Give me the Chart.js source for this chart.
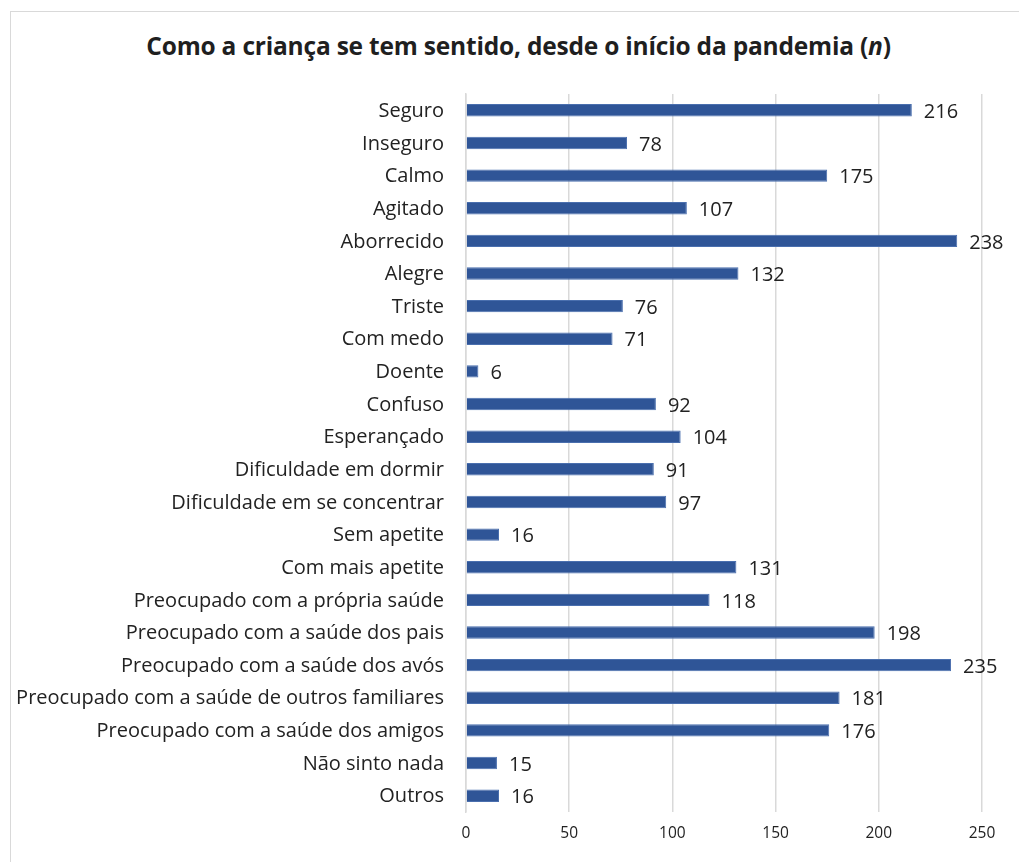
<!DOCTYPE html>
<html>
<head>
<meta charset="utf-8">
<script src="https://cdn.jsdelivr.net/npm/chart.js@4/dist/chart.umd.min.js"></script>
<style>
  html, body { margin: 0; padding: 0; background: #fff; overflow: hidden; }
  #frame { position: absolute; left: 10px; top: 11px; width: 1100px; height: 900px; border: 1px solid #d9d9d9; }
  #title { position: absolute; left: 0; top: 29px; width: 1037px; text-align: center;
           font: bold 24.5px "Open Sans", sans-serif; color: #1f1f1f; letter-spacing: -0.2px; }
  #wrap { position: absolute; left: 0; top: 0; width: 1019px; height: 862px; }
</style>
</head>
<body>
<div id="frame"></div>
<div id="title">Como a criança se tem sentido, desde o início da pandemia (<i>n</i>)</div>
<div id="wrap"><canvas id="barChart" width="1019" height="862"></canvas></div>
<script>
// Categories (top to bottom)
const categories = [
  'Seguro', 'Inseguro', 'Calmo', 'Agitado', 'Aborrecido', 'Alegre', 'Triste',
  'Com medo', 'Doente', 'Confuso', 'Esperançado', 'Dificuldade em dormir',
  'Dificuldade em se concentrar', 'Sem apetite', 'Com mais apetite',
  'Preocupado com a própria saúde', 'Preocupado com a saúde dos pais',
  'Preocupado com a saúde dos avós', 'Preocupado com a saúde de outros familiares',
  'Preocupado com a saúde dos amigos', 'Não sinto nada', 'Outros'
];

// Number of answers (n)
const counts = [216, 78, 175, 107, 238, 132, 76, 71, 6, 92, 104, 91, 97, 16, 131, 118, 198, 235, 181, 176, 15, 16];

// X axis ticks
const xTicks = [0, 50, 100, 150, 200, 250];

// Draw the value next to each bar
const valueLabels = {
  id: 'valueLabels',
  afterDatasetsDraw(chart) {
    const c = chart.ctx;
    const meta = chart.getDatasetMeta(0);
    c.save();
    c.font = '20px "Open Sans", sans-serif';
    c.fillStyle = '#222';
    c.textBaseline = 'middle';
    meta.data.forEach((bar, i) => {
      c.fillText(String(counts[i]), bar.x + 12, bar.y + 2);
    });
    c.restore();
  }
};

const ctx = document.getElementById('barChart').getContext('2d');

const barChart = new Chart(ctx, {
  type: 'bar',
  data: {
    labels: categories,
    datasets: [{
      label: 'n',
      data: counts,
      backgroundColor: '#2F5597',
      borderColor: '#4a6fae',
      borderWidth: 1,
      barPercentage: 0.38,
      categoryPercentage: 1
    }]
  },
  options: {
    indexAxis: 'y',
    responsive: false,
    animation: false,
    layout: { padding: { top: 94, right: 37, bottom: 10, left: 10 } },
    plugins: {
      legend: { display: false },
      tooltip: { enabled: false }
    },
    scales: {
      x: {
        min: 0,
        max: 250,
        afterBuildTicks(scale) {
          scale.ticks = xTicks.map(v => ({ value: v }));
        },
        afterFit(scale) { scale.height = 40; },
        grid: { color: '#d9d9d9', lineWidth: 1.5, drawTicks: false },
        border: { display: false },
        ticks: { padding: 12, color: '#222', font: { family: 'Open Sans', size: 15.5 } }
      },
      y: {
        afterFit(scale) { scale.width = 456; },
        grid: { display: false, drawTicks: false },
        border: { display: true, color: '#d9d9d9', width: 1.5 },
        ticks: { padding: 22, labelOffset: 1, color: '#222', font: { family: 'Open Sans', size: 20 } }
      }
    }
  },
  plugins: [valueLabels]
});
</script>
</body>
</html>
